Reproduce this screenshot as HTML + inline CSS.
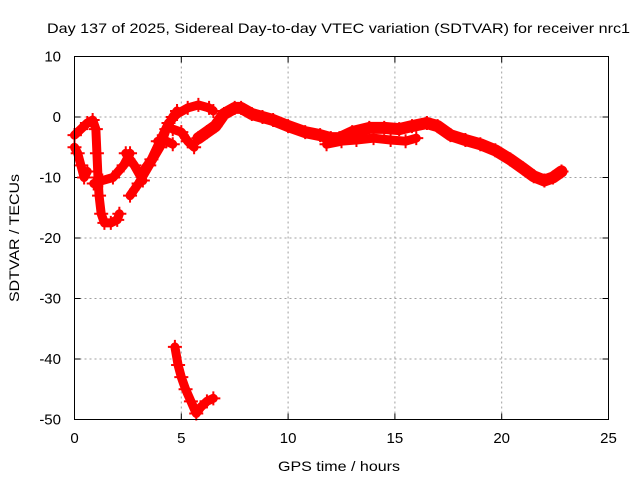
<!DOCTYPE html>
<html><head><meta charset="utf-8"><style>
body{margin:0;background:#fff}
svg{display:block;font-family:"Liberation Sans",sans-serif}
</style></head><body>
<svg id="chart" width="640" height="480">
<text x="47" y="33" font-size="14" textLength="583" lengthAdjust="spacingAndGlyphs">Day 137 of 2025, Sidereal Day-to-day VTEC variation (SDTVAR) for receiver nrc1</text>
<text x="278" y="471" font-size="14" textLength="122" lengthAdjust="spacingAndGlyphs">GPS time / hours</text>
<text transform="translate(19,302) rotate(-90)" font-size="14" textLength="128" lengthAdjust="spacingAndGlyphs">SDTVAR / TECUs</text>
<g id="grid"></g><g id="ticks"></g><g id="marks"></g>
<rect x="74.5" y="56.5" width="534" height="363" fill="none" stroke="#000" stroke-width="1"/>
</svg>
<script>
const xTicks=[0,5,10,15,20,25];
const yTicks=[10,0,-10,-20,-30,-40,-50];
const seriesA=[[0,-3],[0.3,-2],[0.6,-1],[0.85,-0.5],[1.0,-2],[1.05,-6],[1.1,-10],[1.15,-13],[1.25,-16],[1.4,-17.5],[1.7,-17.5],[2.0,-17],[2.1,-16]];
const seriesB=[[0,-5],[0.15,-6],[0.3,-8],[0.45,-10],[0.6,-9]];
const seriesC=[[0.9,-11],[1.3,-10.5],[1.8,-10],[2.3,-8],[2.6,-6]];
const seriesD=[[2.4,-6],[2.8,-8],[3.2,-10.5]];
const seriesE=[[2.6,-13],[3.0,-11],[3.5,-8],[4.0,-5],[4.3,-2],[4.6,0],[4.8,1]];
const seriesF=[[3.2,-9],[3.6,-7],[4.0,-4],[4.4,-1],[4.8,0.5],[5.3,1.5],[5.8,2],[6.3,1.5],[6.5,1]];
const seriesG=[[4.6,-2],[5.0,-2.5],[5.3,-4],[5.6,-5]];
const seriesH=[[3.9,-4],[4.3,-4],[4.6,-4.5]];
const seriesI=[[5.8,-3.5],[6.2,-2.5],[6.6,-1.5],[7.0,0.5],[7.5,1.5],[7.8,1.5],[8.3,0.5],[8.8,0],[9.3,-0.5],[10.0,-1.5],[10.8,-2.5],[11.5,-3],[12.0,-3.5],[12.4,-3.5],[13.0,-2.5],[13.8,-1.8],[14.5,-1.8],[15.2,-2],[15.8,-1.5],[16.5,-1],[17.0,-1.5],[17.6,-3],[18.3,-3.8],[19.0,-4.5],[19.7,-5.5],[20.4,-7],[21.0,-8.5],[21.5,-9.8],[22.0,-10.5],[22.4,-10],[22.8,-9]];
const seriesJ=[[11.8,-4.5],[12.5,-4],[13.2,-3.8],[14.0,-3.5],[14.8,-3.8],[15.5,-4],[16.0,-3.5]];
const seriesK=[[4.7,-38],[4.85,-41],[5.0,-43],[5.2,-45],[5.45,-47],[5.7,-49],[5.9,-48],[6.2,-47],[6.5,-46.5]];
const allSeries=[seriesA,seriesB,seriesC,seriesD,seriesE,seriesF,seriesG,seriesH,seriesI,seriesJ,seriesK];
const X0=74.5,X1=608.5,Y0=56.5,Y1=419.5;
function xs(v){return X0+(v-0)/(25-0)*(X1-X0);}
function ys(v){return Y0+(10-v)/(10-(-50))*(Y1-Y0);}
const NS="http://www.w3.org/2000/svg";
const grid=document.getElementById('grid'),ticks=document.getElementById('ticks'),marks=document.getElementById('marks');
function mk(tag,attrs,parent){const e=document.createElementNS(NS,tag);for(const k in attrs)e.setAttribute(k,attrs[k]);parent.appendChild(e);return e;}
xTicks.forEach(t=>{
 const x=xs(t);
 if(t>0&&t<25){const g=mk('line',{x1:x,x2:x,y1:Y0,y2:Y1,stroke:'#a0a0a0','stroke-dasharray':'2,3'},grid);
 
 }
 mk('line',{x1:x,x2:x,y1:Y1,y2:Y1-6,stroke:'#000'},ticks);mk('line',{x1:x,x2:x,y1:Y0,y2:Y0+6,stroke:'#000'},ticks);
 const l=mk('text',{x:x,y:443,'font-size':15,'text-anchor':'middle'},ticks);l.textContent=t;
 
 
});
yTicks.forEach(t=>{
 const y=ys(t);
 if(t<10&&t>-50){const g=mk('line',{x1:X0,x2:X1,y1:y,y2:y,stroke:'#a0a0a0','stroke-dasharray':'2,3'},grid);
 
 }
 mk('line',{x1:X0,x2:X0+6,y1:y,y2:y,stroke:'#000'},ticks);mk('line',{x1:X1,x2:X1-6,y1:y,y2:y,stroke:'#000'},ticks);
 const l=mk('text',{x:61,y:y+5,'font-size':15,'text-anchor':'end'},ticks);l.textContent=t;
 
 
});
allSeries.forEach((s,i)=>{
 const p=mk('polyline',{points:s.map(d=>xs(d[0])+','+ys(d[1])).join(' '),fill:'none',stroke:'#ff0000','stroke-width':i===8?12:9,'stroke-linejoin':'round','stroke-linecap':'round'},marks);
 
 
 s.forEach(d=>{
  const x=xs(d[0]),y=ys(d[1]);
  const m=mk('path',{d:`M${x-7},${y}H${x+7}M${x},${y-7}V${y+7}`,stroke:'#ff0000','stroke-width':2},marks);
  
  
 });
});
</script>
</body></html>
